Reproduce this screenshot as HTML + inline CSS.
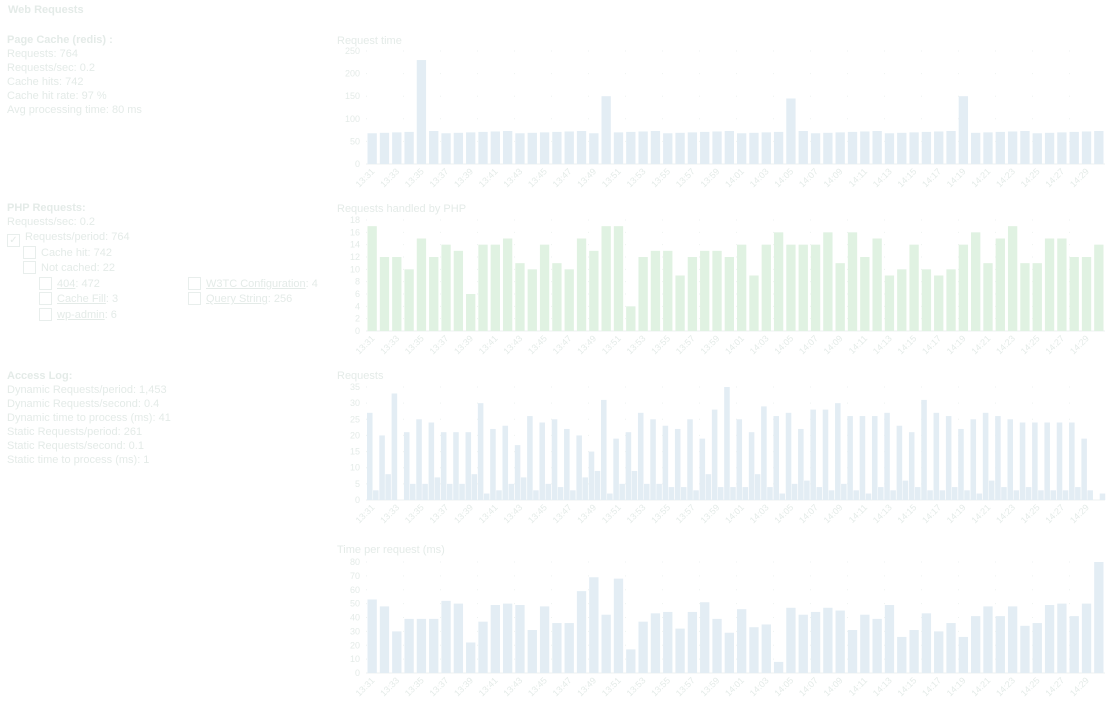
<!DOCTYPE html>
<html><head><meta charset="utf-8"><style>
body{margin:0;background:#fff;width:1113px;height:712px;overflow:hidden;font-family:"Liberation Sans","DejaVu Sans",sans-serif;font-size:11px;color:#e4ebe8;position:relative}
.t{position:absolute;white-space:nowrap;line-height:14px}
b{font-weight:bold}
.cb{display:inline-block;width:11px;height:11px;border:1px solid #e8eeec;vertical-align:-3px;margin-right:5px;font-size:10px;line-height:11px;text-align:center}
u{text-decoration:underline}
svg{position:absolute;left:0;top:0}
</style></head><body>
<div class="t" style="left:8px;top:3px"><b>Web Requests</b></div>
<div class="t" style="left:7px;top:33px"><b>Page Cache (redis) :</b><br>Requests: 764<br>Requests/sec: 0.2<br>Cache hits: 742<br>Cache hit rate: 97 %<br>Avg processing time: 80 ms</div>
<div class="t" style="left:7px;top:201px"><b>PHP Requests:</b><br>Requests/sec: 0.2</div>
<div class="t" style="left:7px;top:230px"><span class="cb">✓</span>Requests/period: 764</div>
<div class="t" style="left:23px;top:246px"><span class="cb"></span>Cache hit: 742</div>
<div class="t" style="left:23px;top:261px"><span class="cb"></span>Not cached: 22</div>
<div class="t" style="left:39px;top:277px"><span class="cb"></span><u>404</u>: 472</div>
<div class="t" style="left:39px;top:292px"><span class="cb"></span><u>Cache Fill</u>: 3</div>
<div class="t" style="left:39px;top:308px"><span class="cb"></span><u>wp-admin</u>: 6</div>
<div class="t" style="left:188px;top:277px"><span class="cb"></span><u>W3TC Configuration</u>: 4</div>
<div class="t" style="left:188px;top:292px"><span class="cb"></span><u>Query String</u>: 256</div>
<div class="t" style="left:7px;top:369px"><b>Access Log:</b><br>Dynamic Requests/period: 1,453<br>Dynamic Requests/second: 0.4<br>Dynamic time to process (ms): 41<br>Static Requests/period: 261<br>Static Requests/second: 0.1<br>Static time to process (ms): 1</div>
<svg id="s" width="1113" height="712" xmlns="http://www.w3.org/2000/svg" font-family="Liberation Sans, sans-serif" font-size="9" fill="#e4ebe8"></svg>
<script>
var s=document.getElementById('s'),h='';
var X0=366,X1=1105,N=60,W=(X1-X0)/N;
function chart(title,ty,top,bot,max,step,data,col,data2){
 h+='<text x="337" y="'+(ty)+'" font-size="11">'+title+'</text>';
 var g=max/step;
 for(var i=0;i<=g;i++){var y=bot-(bot-top)*i/g;
  h+='<text x="'+(X0-6)+'" y="'+(y+3)+'" text-anchor="end">'+(step*i)+'</text>';
  h+='<line x1="'+X0+'" x2="'+X1+'" y1="'+y+'" y2="'+y+'" stroke="#eef2f0" stroke-dasharray="1,36"/>';}
 h+='<line x1="'+X0+'" x2="'+X1+'" y1="'+bot+'" y2="'+bot+'" stroke="#eef2f0"/>';
 for(var i=0;i<N;i++){var x=X0+i*W;
  if(data2){var bw=W*0.45;
   var v=data[i],hh=(bot-top)*v/max;h+='<rect x="'+(x+1)+'" y="'+(bot-hh)+'" width="'+bw+'" height="'+hh+'" fill="'+col+'"/>';
   v=data2[i];hh=(bot-top)*v/max;h+='<rect x="'+(x+1+bw+0.5)+'" y="'+(bot-hh)+'" width="'+bw+'" height="'+hh+'" fill="'+col+'"/>';
  }else{var v=data[i],hh=(bot-top)*v/max;h+='<rect x="'+(x+1.5)+'" y="'+(bot-hh)+'" width="'+(W-3)+'" height="'+hh+'" fill="'+col+'"/>';}
 }
 for(var i=0;i<N;i+=2){var m=31+i,hr=13+Math.floor(m/60);m=m%60;
  var lab=hr+':'+(m<10?'0':'')+m,x=X0+i*W+W/2+3,y=bot+8;
  h+='<text transform="translate('+x+','+y+') rotate(-45)" text-anchor="end">'+lab+'</text>';}
}
var d1=[];for(var i=0;i<N;i++)d1.push(68+((i*7)%6));d1[4]=230;d1[19]=150;d1[34]=145;d1[48]=150;
var d2=[17,12,12,10,15,12,14,13,6,14,14,15,11,10,14,11,10,15,13,17,17,4,12,13,13,9,12,13,13,12,14,9,14,16,14,14,14,16,11,16,12,15,9,10,14,10,9,10,14,16,11,15,17,11,11,15,15,12,12,14];
var d3=[27,20,33,21,25,24,21,21,21,30,22,23,17,26,24,25,22,20,15,31,19,21,27,25,23,22,25,19,28,35,25,21,29,26,27,22,28,28,30,26,26,26,27,23,21,31,27,26,22,25,27,26,25,24,24,24,24,24,19,0];
var d3b=[3,8,0,5,5,7,5,5,8,2,3,5,7,3,5,4,3,7,9,2,5,9,5,5,4,4,3,8,4,4,4,8,4,2,5,6,4,3,5,3,2,4,3,6,4,3,3,4,3,2,6,4,3,4,3,3,3,4,3,2];
var d4=[53,48,30,39,39,39,52,50,22,37,49,50,49,31,48,36,36,59,69,42,68,17,37,43,44,32,44,51,39,29,46,33,35,8,47,42,44,47,45,31,42,39,49,26,31,43,30,36,26,41,48,41,48,34,36,49,50,41,50,80];
chart('Request time',44,51,164,250,50,d1,'#e3edf4');
chart('Requests handled by PHP',212,220,331,18,2,d2,'#e0f2e2');
chart('Requests',379,387,500,35,5,d3,'#e3edf4',d3b);
chart('Time per request (ms)',553,562,673,80,10,d4,'#e3edf4');
s.innerHTML=h;
</script>
</body></html>
